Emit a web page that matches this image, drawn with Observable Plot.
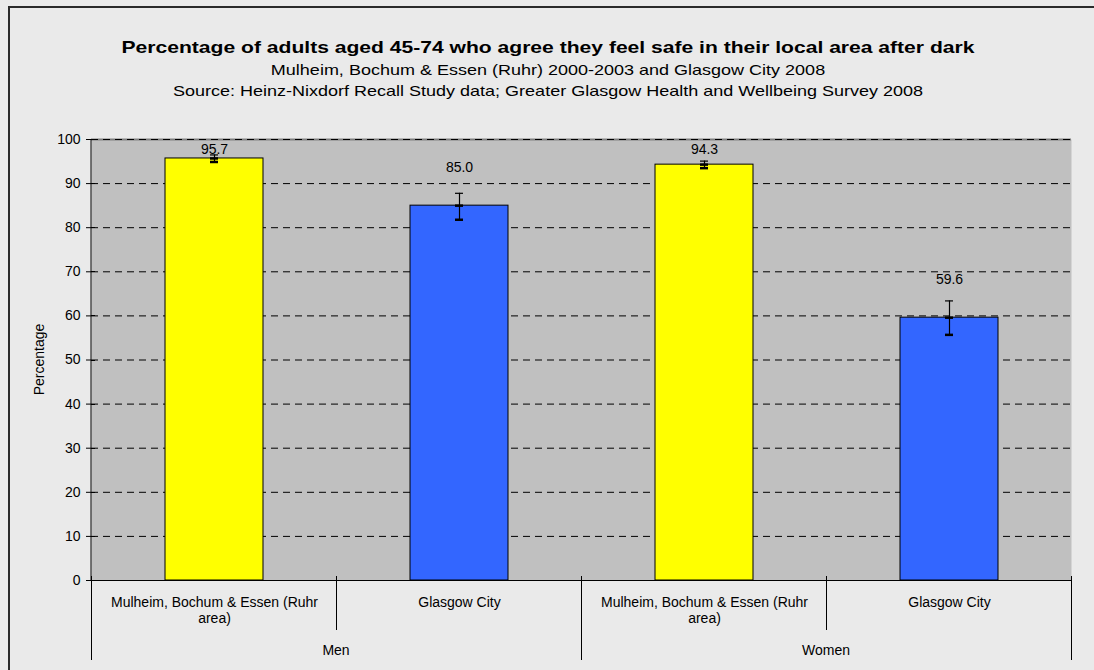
<!DOCTYPE html>
<html><head><meta charset="utf-8">
<script src="https://cdn.jsdelivr.net/npm/d3@7"></script>
<script src="https://cdn.jsdelivr.net/npm/@observablehq/plot@0.6"></script>
<style>
html,body{margin:0;padding:0;background:#eaeaea;}
body{width:1094px;height:670px;overflow:hidden;position:relative;font-family:Arial,"Liberation Sans",sans-serif;color:#000;}
#frame{position:absolute;left:8px;top:6px;width:1200px;height:800px;border-left:2px solid #2a2a2a;border-top:2px solid #2a2a2a;box-sizing:border-box;}
.t{position:absolute;left:0;width:1096px;text-align:center;white-space:nowrap;transform-origin:548px 50%;}
#title{top:37px;font-size:17px;font-weight:bold;line-height:22px;transform:scaleX(1.24);}
#sub1{top:60px;font-size:15px;line-height:20px;transform:scaleX(1.2);}
#sub2{top:81px;font-size:15px;line-height:20px;transform:scaleX(1.2);}
#chart{position:absolute;left:0;top:110px;}
</style>
</head><body>
<div id="frame"></div>
<div id="title" class="t">Percentage of adults aged 45-74 who agree they feel safe in their local area after dark</div>
<div id="sub1" class="t">Mulheim, Bochum &amp; Essen (Ruhr) 2000-2003 and Glasgow City 2008</div>
<div id="sub2" class="t">Source: Heinz-Nixdorf Recall Study data; Greater Glasgow Health and Wellbeing Survey 2008</div>
<div id="chart"></div>
<script>
const groups = ["Men", "Women"];
const sites = ["Mulheim, Bochum & Essen (Ruhr area)", "Glasgow City"];
const siteTickLabels = ["Mulheim, Bochum & Essen (Ruhr\narea)", "Glasgow City"];
const siteColors = ["#ffff00", "#3366ff"];
const values = [95.7, 85.0, 94.3, 59.6];
const lower = [94.9, 81.8, 93.5, 55.7];
const upper = [96.5, 87.8, 95.1, 63.4];
const yTicks = [0, 10, 20, 30, 40, 50, 60, 70, 80, 90, 100];
const yLabel = "Percentage";

const data = values.map((v, i) => {
  const g = groups[Math.floor(i / 2)], s = sites[i % 2];
  return {group: g, site: s, key: g + "|" + s, value: v, lo: lower[i], hi: upper[i],
          labelY: Math.min(v + 8.6, 97.8)};
});
const keys = data.map(d => d.key);
const tickLabel = k => siteTickLabels[sites.indexOf(k.split("|")[1])];

function decorations(index, scales, values, dimensions) {
  const {width, height, marginLeft, marginRight, marginTop, marginBottom} = dimensions;
  const x0 = marginLeft, x1 = width - marginRight, y0 = height - marginBottom, yt = marginTop;
  const step = (x1 - x0) / keys.length;
  const g = d3.create("svg:g").attr("stroke", "#000").attr("fill", "none");
  g.append("line").attr("x1", x0).attr("x2", x0).attr("y1", yt).attr("y2", y0);
  for (const t of yTicks) {
    const y = Math.round(scales.y(t)) + 0.5;
    if (t > 0 && t < 100) g.append("line").attr("x1", x0).attr("x2", x0 + 4).attr("y1", y).attr("y2", y);
  }
  g.append("line").attr("x1", x0 - 5).attr("x2", x1).attr("y1", y0 + 0.5).attr("y2", y0 + 0.5);
  for (let i = 0; i <= keys.length; i++) {
    const x = Math.round(x0 + i * step) + 0.5;
    const long = i % 2 === 0;
    g.append("line").attr("x1", x).attr("x2", x).attr("y1", y0 - 4).attr("y2", y0 + (long ? 80 : 50));
  }
  groups.forEach((grp, i) => {
    g.append("text").attr("x", x0 + (2 * i + 1) * step).attr("y", y0 + 75)
      .attr("text-anchor", "middle").attr("fill", "#000").attr("stroke", "none")
      .attr("font-size", 14).text(grp);
  });
  const ym = (yt + y0) / 2;
  g.append("text").attr("transform", `translate(${x0 - 47},${ym}) rotate(-90)`)
    .attr("text-anchor", "middle").attr("fill", "#000").attr("stroke", "none")
    .attr("font-size", 14).text(yLabel);
  return g.node();
}

const chart = Plot.plot({
  width: 1094,
  height: 560,
  marginLeft: 91,
  marginRight: 23,
  marginTop: 29,
  marginBottom: 90,
  style: {background: "transparent", fontFamily: "Arial, 'Liberation Sans', sans-serif", fontSize: "14px", color: "#000"},
  x: {domain: keys, paddingInner: 0.6, paddingOuter: 0.3, axis: null},
  y: {domain: [0, 100], axis: null},
  color: {domain: sites, range: siteColors},
  marks: [
    Plot.frame({fill: "#c0c0c0", stroke: "none"}),
    Plot.ruleY([100], {stroke: "#808080", strokeWidth: 2}),
    Plot.ruleY(yTicks.filter(d => d > 0), {y: d => d, stroke: "#000", strokeDasharray: "7,5"}),
    Plot.barY(data, {x: "key", y: "value", fill: "site", stroke: "#000", strokeWidth: 1}),
    Plot.ruleX(data, {x: "key", y1: "lo", y2: "hi", stroke: "#000", strokeWidth: 1.2}),
    Plot.tickY(data, {x: "key", y: "hi", stroke: "#000", strokeWidth: 1.2, insetLeft: 45, insetRight: 45}),
    Plot.tickY(data, {x: "key", y: "lo", stroke: "#000", strokeWidth: 2.5, insetLeft: 45, insetRight: 45}),
    Plot.tickY(data, {x: "key", y: "value", stroke: "#000", strokeWidth: 2.5, insetLeft: 45, insetRight: 45}),
    Plot.text(data, {x: "key", y: "labelY", text: d => d.value.toFixed(1), fill: "#000", fontSize: 14}),
    Plot.axisY({ticks: yTicks, tickSize: 5, tickPadding: 6, label: null, fontSize: 14}),
    Plot.axisX({tickSize: 0, tickPadding: 15, tickFormat: tickLabel, lineHeight: 1.15, fontSize: 14, label: null}),
    decorations
  ]
});
document.getElementById("chart").appendChild(chart);
</script>
</body></html>
